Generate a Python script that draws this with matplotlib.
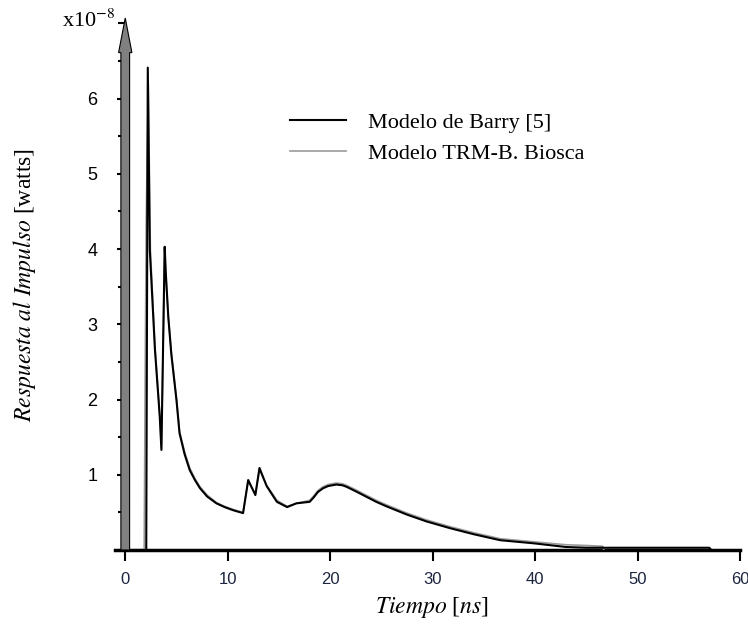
import matplotlib.pyplot as plt
from matplotlib.ticker import MultipleLocator

plt.rcParams['mathtext.fontset'] = 'stix'

# Modelo de Barry [5] (x in ns, y in units of 1e-8 W)
t_barry = [0, 2.05, 2.2, 2.4, 2.9, 3.37, 3.53, 3.85, 3.95, 4.2, 4.5, 5.0, 5.3, 5.8, 6.3,
           6.8, 7.3, 8.0, 8.9, 9.7, 10.5, 11.5, 12.0, 12.7, 13.1, 13.8, 14.8, 15.8,
           16.7, 18.0, 18.4, 18.8, 19.3, 19.8, 20.6, 21.2, 21.6, 22.5, 23.5, 24.5,
           25.5, 27.5, 29.4, 31.7, 34.0, 36.6, 39.8, 43.0, 45.0, 50.0, 57.0, 57.2]
p_barry = [0, 0, 6.41, 3.98, 2.66, 1.77, 1.33, 4.03, 3.7, 3.1, 2.6, 1.99, 1.55, 1.27, 1.06,
           0.93, 0.82, 0.71, 0.62, 0.57, 0.53, 0.49, 0.93, 0.73, 1.09, 0.85, 0.64, 0.57,
           0.62, 0.64, 0.70, 0.77, 0.82, 0.85, 0.87, 0.86, 0.84, 0.78, 0.71, 0.64,
           0.58, 0.47, 0.38, 0.29, 0.21, 0.13, 0.09, 0.04, 0.03, 0.03, 0.03, 0]

# Modelo TRM-B. Biosca
t_trm = [0, 1.85, 1.95, 2.05, 2.25, 2.45, 2.9, 3.37, 3.53, 3.85, 3.95, 4.2, 4.5, 5.0,
         5.3, 5.8, 6.3, 6.8, 7.3, 8.0, 8.9, 9.7, 10.5, 11.5, 12.0, 12.7, 13.1, 13.8,
         14.8, 15.8, 16.7, 18.0, 18.4, 18.8, 19.3, 19.8, 20.6, 21.2, 21.6, 22.5, 23.5,
         24.5, 25.5, 27.5, 29.4, 31.7, 34.0, 36.6, 39.8, 43.0, 45.0, 46.6, 46.7]
p_trm = [0, 0, 2.4, 4.4, 6.2, 4.0, 2.7, 1.8, 1.36, 4.0, 3.68, 3.1, 2.62, 2.02,
         1.58, 1.3, 1.09, 0.95, 0.84, 0.73, 0.63, 0.58, 0.54, 0.5, 0.92, 0.74, 1.07, 0.86,
         0.66, 0.58, 0.62, 0.66, 0.72, 0.79, 0.84, 0.87, 0.89, 0.88, 0.86, 0.8, 0.73,
         0.66, 0.6, 0.49, 0.4, 0.31, 0.23, 0.15, 0.11, 0.07, 0.06, 0.05, 0]

xticks = [0, 10, 20, 30, 40, 50, 60]
yticks = [1, 2, 3, 4, 5, 6]

fig = plt.figure(figsize=(7.48, 6.27), dpi=100)
ax = fig.add_axes([115 / 748, 77 / 627, 625 / 748, 532 / 627])

ax.plot(t_trm, p_trm, color='#9a9a9a', lw=1.2, label='Modelo TRM-B. Biosca', zorder=3)
ax.plot(t_barry, p_barry, color='black', lw=1.5, label='Modelo de Barry [5]', zorder=4)

ax.set_xlim(-1, 60)
ax.set_ylim(0, 7.07)

for s in ['top', 'right']:
    ax.spines[s].set_visible(False)
ax.spines['bottom'].set_linewidth(2.5)
ax.spines['left'].set_position(('data', 0))
ax.spines['left'].set_visible(False)

# gray y axis arrow
ax.arrow(0, 0, 0, 7.07, width=0.85, head_width=1.3, head_length=0.46,
         length_includes_head=True, fc='#808080', ec='black', lw=0.8,
         clip_on=False, zorder=5)

ax.set_xticks(xticks)
ax.set_xticklabels([str(v) for v in xticks], fontname='Liberation Sans',
                   fontsize=12, color='#1c2540')
ax.tick_params(axis='x', direction='out', length=8, width=1.5, pad=8)

ax.set_yticks(yticks)
ax.set_yticklabels([str(v) for v in yticks], fontname='Liberation Sans', fontsize=13)
ax.yaxis.set_minor_locator(MultipleLocator(0.5))
ax.tick_params(axis='y', which='major', direction='out', length=6, width=1.5, pad=14)
ax.tick_params(axis='y', which='minor', direction='out', length=5, width=1.5)

fig.text(62 / 748, 1 - 21 / 627, r'x10$^{\mathrm{-8}}$', fontsize=16,
         fontname='Liberation Serif', va='center', ha='left')

fig.text(432 / 748, 1 - 608 / 627, r'$\it{Tiempo}$ [$\it{ns}$]', fontsize=17,
         fontname='Liberation Serif', ha='center', va='center')
fig.text(25 / 748, 1 - 285 / 627, r'$\it{Respuesta\ al\ Impulso}$ [watts]', fontsize=17,
         fontname='Liberation Serif', ha='center', va='center', rotation=90)

handles, labels = ax.get_legend_handles_labels()
ax.legend(handles[::-1], labels[::-1], loc='upper left',
          bbox_to_anchor=(270 / 748, 1 - 92 / 627), bbox_transform=fig.transFigure,
          frameon=False, prop={'family': 'Liberation Serif', 'size': 16},
          handlelength=2.5, handletextpad=1.0, labelspacing=0.5)

fig.savefig('out.png', dpi=100)
